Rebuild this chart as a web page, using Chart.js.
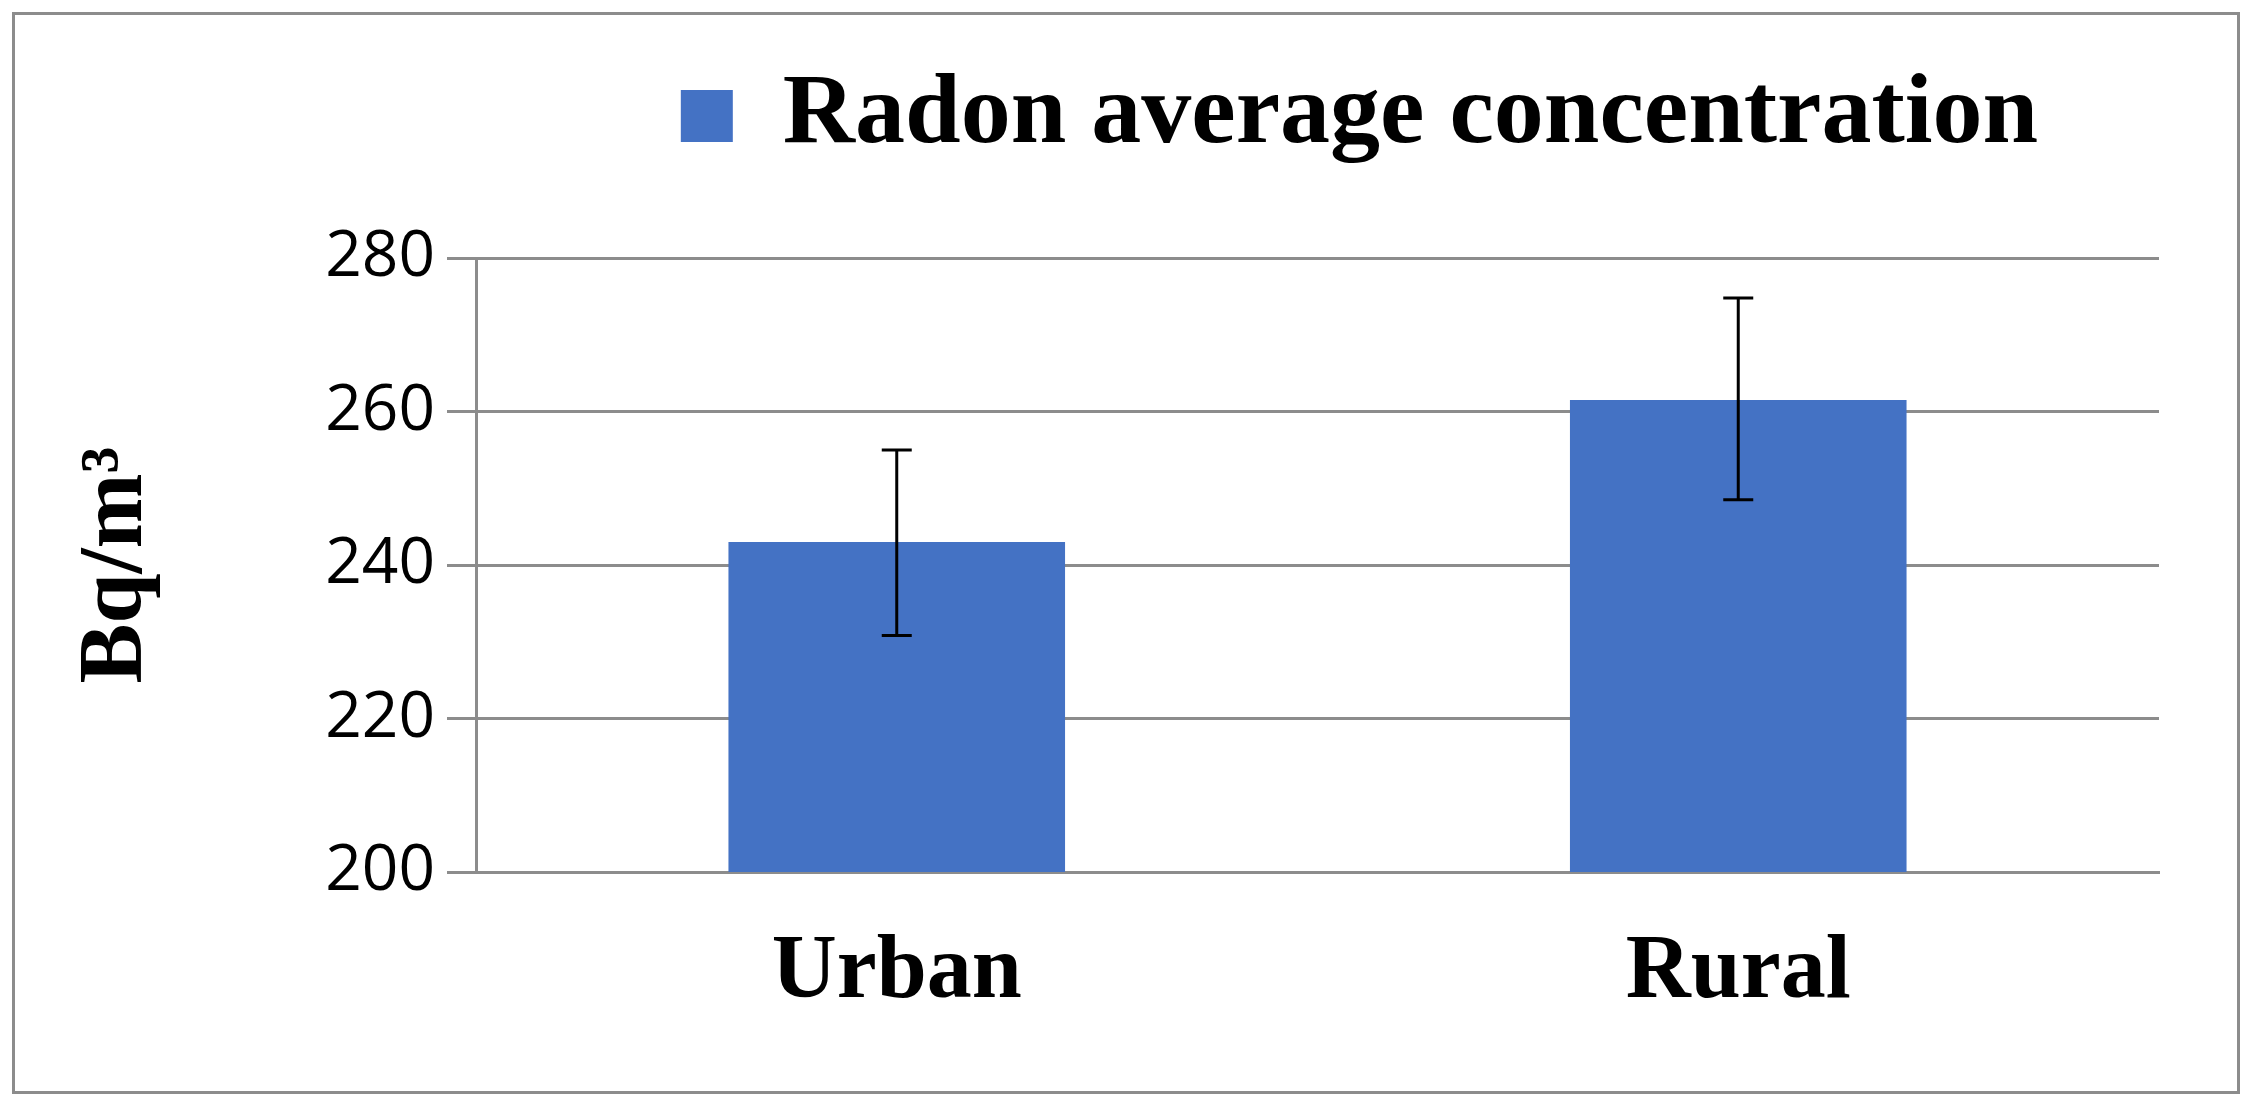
<!DOCTYPE html>
<html>
<head>
<meta charset="utf-8">
<script src="https://cdn.jsdelivr.net/npm/chart.js@4"></script>
<style>
  body { margin: 0; background: #fff; }
  #wrap { position: relative; width: 2261px; height: 1106px; }
  #frame { position: absolute; left: 12px; top: 12px; width: 2222px; height: 1076px; border: 3px solid #8c8c8c; pointer-events: none; }
</style>
</head>
<body>
<div id="wrap">
  <canvas id="chart" width="2261" height="1106"></canvas>
  <div id="frame"></div>
</div>
<script>
const categories = ["Urban", "Rural"];
const radonAverage = [243, 261.5];
const errorLow = [230.8, 248.5];
const errorHigh = [255, 274.8];
const yTicks = [200, 220, 240, 260, 280];

const GRID = "#8c8c8c";
const BAR = "#4472c4";

// draws the error whiskers from the arrays above through the chart's scales
const errorBars = {
  id: "errorBars",
  afterDatasetsDraw(chart) {
    const { ctx, scales } = chart;
    const meta = chart.getDatasetMeta(0);
    ctx.save();
    ctx.strokeStyle = "#000";
    ctx.lineWidth = 3;
    meta.data.forEach((bar, i) => {
      const x = bar.x;
      const yLo = scales.y.getPixelForValue(errorLow[i]);
      const yHi = scales.y.getPixelForValue(errorHigh[i]);
      ctx.beginPath();
      ctx.moveTo(x, yLo); ctx.lineTo(x, yHi);
      ctx.moveTo(x - 15, yLo); ctx.lineTo(x + 15, yLo);
      ctx.moveTo(x - 15, yHi); ctx.lineTo(x + 15, yHi);
      ctx.stroke();
    });
    ctx.restore();
  },
};

// extra gap under the legend and a nudge to the right, like the original
const legendSpacing = {
  id: "legendSpacing",
  afterInit(chart) {
    const legend = chart.legend;
    const fit = legend.fit.bind(legend);
    legend.fit = function () { fit(); this.height += 82; };
  },
  afterLayout(chart) {
    chart.legend.left += 250;
    chart.legend.right += 250;
  },
};

new Chart(document.getElementById("chart"), {
  type: "bar",
  data: {
    labels: categories,
    datasets: [{
      label: "Radon average concentration",
      data: radonAverage,
      backgroundColor: BAR,
      barPercentage: 0.4,
      categoryPercentage: 1,
    }],
  },
  options: {
    responsive: false,
    animation: false,
    layout: { padding: { top: 0, right: 102, left: 60, bottom: 0 } },
    plugins: {
      legend: {
        labels: {
          color: "#000",
          font: { family: "Liberation Serif", weight: "bold", size: 100 },
          boxWidth: 52,
          boxHeight: 52,
          padding: 66,
        },
      },
      tooltip: { enabled: false },
    },
    scales: {
      x: {
        afterFit: (scale) => { scale.height = 234; },
        grid: { display: false },
        border: { color: GRID, width: 3 },
        ticks: {
          color: "#000",
          padding: 40,
          font: { family: "Liberation Serif", weight: "bold", size: 90 },
        },
      },
      y: {
        min: 200,
        max: 280,
        afterFit: (scale) => { scale.width = 416; },
        afterBuildTicks: (scale) => { scale.ticks = yTicks.map((v) => ({ value: v })); },
        grid: { color: GRID, lineWidth: 3, tickLength: 29 },
        border: { color: GRID, width: 3 },
        ticks: {
          color: "#000",
          padding: 12,
          font: { family: "Open Sans", size: 64 },
        },
        title: {
          display: true,
          text: "Bq/m³",
          color: "#000",
          padding: { bottom: 20 },
          font: { family: "Liberation Serif", weight: "bold", size: 90 },
        },
      },
    },
  },
  plugins: [errorBars, legendSpacing],
});
</script>
</body>
</html>
